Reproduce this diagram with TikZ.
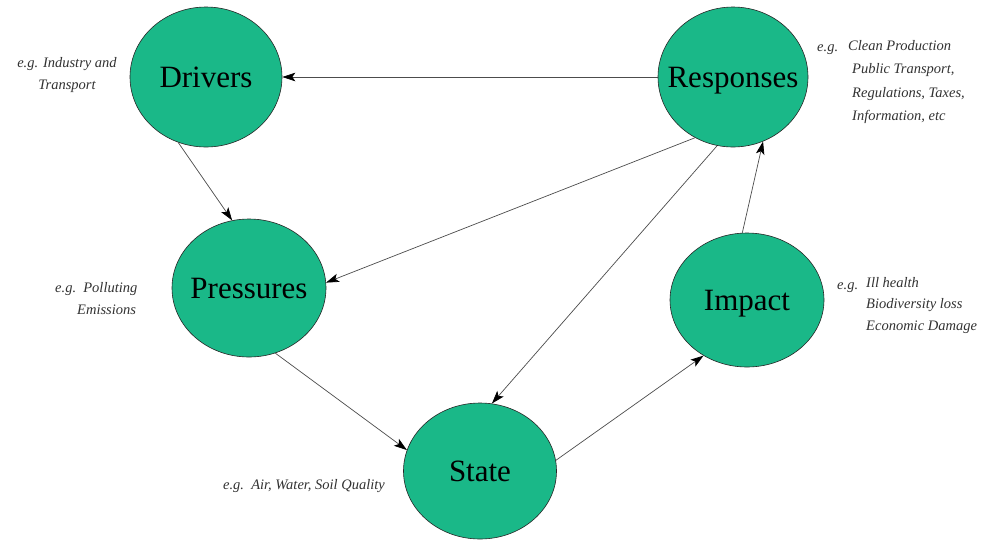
\documentclass[tikz,border=0pt]{standalone}
\usepackage{fontspec}
\setmainfont{Liberation Serif}
\newfontfamily\dserif{Liberation Serif}
\usetikzlibrary{shapes.geometric,arrows.meta}
\definecolor{dpsirgreen}{RGB}{26,184,136}
\definecolor{labelgray}{RGB}{50,50,50}
\begin{document}
\begin{tikzpicture}[x=1pt,y=-1pt,
  blob/.style={ellipse, draw=black!85, line width=0.6pt, fill=dpsirgreen, inner sep=0pt},
  namefont/.style={font=\dserif\fontsize{31}{31}\selectfont, text height=20.5pt, text depth=0pt, inner sep=0pt, text=black},
  egtext/.style={font=\dserif\fontsize{14.5}{22}\selectfont\itshape, text=labelgray, inner sep=0pt},
  link/.style={draw=black!70, line width=0.7pt, -{Stealth[length=13pt,width=8.5pt,inset=3pt,color=black]}}
]
\clip (0,0) rectangle (983,539);
\fill[white] (0,0) rectangle (983,539);

% ellipses
\node[blob, minimum width=152pt, minimum height=140pt, label={[namefont]center:Drivers}] (drv) at (206,77) {};
\node[blob, minimum width=150pt, minimum height=140pt, label={[namefont]center:Responses}] (rsp) at (733,77) {};
\node[blob, minimum width=154pt, minimum height=138pt, label={[namefont]center:Pressures}] (prs) at (249,288) {};
\node[blob, minimum width=154pt, minimum height=134pt, label={[namefont]center:Impact}] (imp) at (747,300) {};
\node[blob, minimum width=153pt, minimum height=136pt, label={[namefont]center:State}] (st) at (480,471) {};

% connectors
\draw[link] (rsp) -- (drv);
\draw[link] (drv.247) -- (prs.104);
\draw[link] (rsp.238) -- (prs.4);
\draw[link] (rsp.257) -- (st.80);
\draw[link] (prs.292) -- (st.164);
\draw[link] (st.8) -- (imp.232);
\draw[link] (imp.94) -- (rsp.295);

% example labels
\node[egtext, align=center, anchor=center] (ldrv) at (67,75) {e.g. Industry and\\Transport};
\node[egtext, anchor=base west] (lrspeg) at (817,51) {e.g.};
\node[egtext, align=left, anchor=north west, font=\dserif\fontsize{14.5}{23.5}\selectfont\itshape] (lrsp) at (848,40) {Clean Production\\\hspace*{4pt}Public Transport,\\\hspace*{4pt}Regulations, Taxes,\\\hspace*{4pt}Information, etc};
\node[egtext, align=left, anchor=north west] (lprs) at (55,282) {e.g.\ \ Polluting\\\hspace*{22pt}Emissions};
\node[egtext, anchor=base west] (limpeg) at (837,289) {e.g.};
\node[egtext, align=left, anchor=north west, font=\dserif\fontsize{14.5}{21.5}\selectfont\itshape] (limp) at (866,277) {Ill health\\Biodiversity loss\\Economic Damage};
\node[egtext, anchor=center] (lst) at (304,486) {e.g.\ \ Air, Water, Soil Quality};
\end{tikzpicture}
\end{document}
